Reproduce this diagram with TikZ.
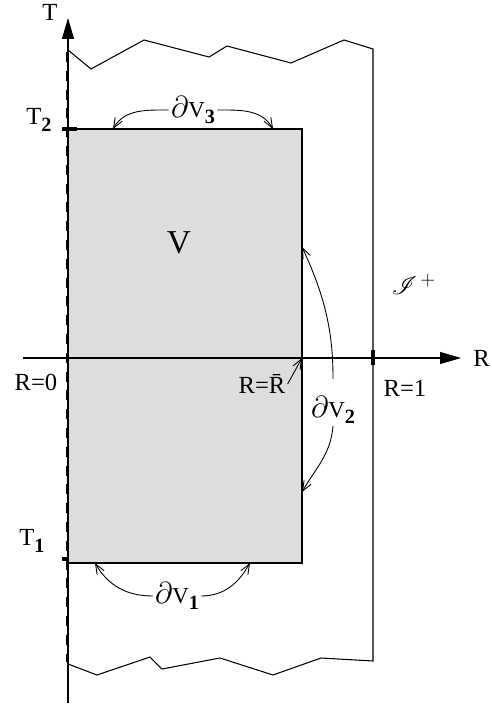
\documentclass[tikz,border=0pt]{standalone}
\usepackage{fontspec}
\setmainfont{Liberation Serif}
\usepackage{mathrsfs}
\usetikzlibrary{arrows.meta,positioning}
\definecolor{boxgray}{HTML}{DCDDDF}
\tikzset{
    > = {Straight Barb[length=2mm,width=1.6mm]},
    every node/.append style = {
        inner sep = 1pt,
        text = black,
        font = \fontsize{14}{16}\selectfont
    },
    every path/.append style = {
        line width = 0.6pt
    },
    axis/.style = {
        -{Triangle[length=4.2mm,width=2.4mm]}
    },
    flow/.style = {
        ->,
        line width = 0.5pt
    },
    origin/.style = {
        line width = 1.2pt,
        dash pattern = on 5.7pt off 5pt
    },
    tickmark/.style = {
        line width = 2.4pt
    }
}
\newcommand{\lowbold}[1]{\raisebox{-0.6ex}{\fontsize{11.5}{12}\selectfont\bfseries #1}}
\newcommand{\bdry}[1]{{\fontsize{17}{19}\selectfont$\partial$}{\fontsize{13}{15}\selectfont V}\lowbold{#1}}

\begin{document}
\begin{tikzpicture}[x=0.02cm, y=0.02cm]
    \useasboundingbox (0,0) rectangle (491,-706);
    % the region V
    \fill[boxgray] (68,-129) rectangle (302,-563);
    % axes
    \coordinate (Ttip) at (68,-18);
    \coordinate (Rtip) at (461,-358);
    \coordinate (Tfoot) at (68,-703);
    \coordinate (Rfoot) at (23,-358);
    \draw[axis] (Tfoot) -- (Ttip);
    \draw[axis] (Rfoot) -- (Rtip);
    \draw[origin] (67,-52) -- (67,-662);
    % outer domain with torn edges
    \draw (68,-50) -- (91,-69) -- (144,-40) -- (209,-57) -- (227,-46) -- (291,-63)
        -- (344,-40) -- (373,-49) -- (373,-661) -- (321,-658) -- (273,-675)
        -- (220,-658) -- (162,-669) -- (150,-657) -- (97,-675) -- (68,-664);
    % edges of V
    \coordinate (TL) at (68,-129);
    \coordinate (TR) at (302,-129);
    \coordinate (BR) at (302,-563);
    \coordinate (BL) at (68,-563);
    \draw (TL) -- (TR) -- (BR) -- (BL);
    % ticks
    \draw[tickmark] (62,-129) -- (77,-129);
    \draw[tickmark] (62,-559) -- (68,-559);
    \draw[line width=2.8pt] (373,-350) -- (373,-365);

    % labels
    \node (T) at (50,-12) {T};
    \node (R) [right = 2mm of Rtip] {R};
    \node (T2) at (39,-120) {T\lowbold{2}};
    \node (T1) at (32,-541) {T\lowbold{1}};
    \node (R0) at (36,-382) {R=0};
    \node (R1) at (405,-388) {R=1};
    \node (Rbar) at (262,-384) {R=\={R}};
    \node (V) at (179,-243) {\fontsize{19}{21}\selectfont V};
    \node (scri) at (414,-284) {\fontsize{15}{17}\selectfont$\mathscr{I}^{\,\mathbf{+}}$};

    % boundary pieces
    \node (dv3) at (193,-110) {\bdry{3}};
    \node (dv2) at (333,-410) {\bdry{2}};
    \node (dv1) at (177,-596) {\bdry{1}};
    \coordinate (v3l) at (113,-129);
    \coordinate (v3r) at (273,-129);
    \coordinate (v2t) at (302,-247);
    \coordinate (v2b) at (302,-492);
    \coordinate (v1l) at (95,-563);
    \coordinate (v1r) at (250,-563);
    \draw[flow] (dv3.west) to[out=180, in=60] (v3l);
    \draw[flow] (dv3.east) to[out=0, in=120] (v3r);
    \draw[flow, shorten <=3mm] (dv2.north) to[out=90, in=-65] (v2t);
    \draw[flow] (dv2.south) to[out=-95, in=60] (v2b);
    \draw[flow] (dv1.west) to[out=180, in=-60] (v1l);
    \draw[flow] (dv1.east) to[out=0, in=-120] (v1r);
    \draw[flow] (Rbar.east) -- (TR |- Rfoot);
\end{tikzpicture}
\end{document}
